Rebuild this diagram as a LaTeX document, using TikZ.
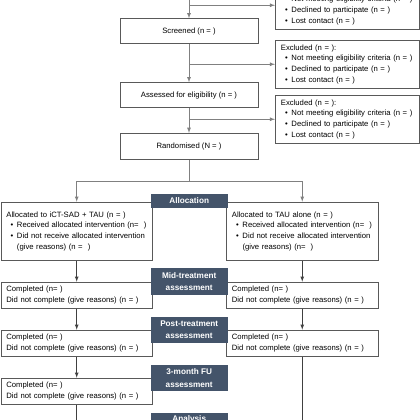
\documentclass[tikz,border=0pt]{standalone}
\usepackage{fontspec}
\setmainfont{Liberation Sans}
\usepackage{tikz}
\usetikzlibrary{arrows}
\definecolor{slate}{HTML}{44546A}
\definecolor{boxgray}{HTML}{595959}
\newcommand{\bul}{\hspace*{4.3pt}\textbullet\hspace{3.6pt}}
\newcommand{\cont}{\hspace*{10.6pt}}

\begin{document}
\begin{tikzpicture}[x=1pt, y=-1pt, every node/.style={font=\fontsize{7.7}{10.8}\selectfont},
		box/.style={draw=boxgray, line width=0.8pt, anchor=north west, inner xsep=5.5pt, inner ysep=0pt, align=left},
		stage/.style={draw=boxgray, line width=0.8pt, minimum width=138pt, minimum height=25pt, inner sep=0pt},
		head/.style={fill=slate, text=white, font=\fontsize{8.2}{12.3}\selectfont\bfseries, minimum width=77pt, align=center, inner sep=0pt},
		link/.style={color=gray, line width=0.8pt},
		dlink/.style={color=black!75, line width=0.8pt}]
				\useasboundingbox (0,0) rectangle (420,420);
				\clip (0,0) rectangle (420,420);
				% screening
				\coordinate (enrol) at (189,-30);
				\coordinate (bottom) at (0,430);
				\node [stage] (screened) at (189,31.2) {Screened (n = )};
				\node [stage] (assessed) at (189,95.2) {Assessed for eligibility (n = )};
				\node [stage, minimum height=26.4pt] (randomised) at (189,146.5) {Randomised (N = )};
				\foreach \n/\y in {0/-19,1/40,2/95}
				\node [box, minimum width=144pt, text width=133pt, minimum height=47.7pt] (excl\n) at (275,\y)
					{Excluded (n = ):\\ \bul Not meeting eligibility criteria (n = )\\ \bul Declined to participate (n = )\\ \bul Lost contact (n = )};
				\draw [link,-latex] (enrol) -- (screened);
				\draw [link,-latex] (screened) -- (assessed);
				\draw [link,-latex] (assessed) -- (randomised);
				\draw [link,-latex] (enrol |- excl0.west) -- (excl0.west);
				\draw [link,-latex] (screened.south |- excl1.west) -- (excl1.west);
				\draw [link,-latex] (assessed.south |- excl2.west) -- (excl2.west);
				% allocation
				\node [box, minimum width=151.6pt, text width=140.6pt, minimum height=58.3pt] (allocL) at (0.5,201.7)
					{Allocated to iCT-SAD + TAU (n = )\\ \bul Received allocated intervention (n=\ \ )\\ \bul Did not receive allocated intervention\\ \cont(give reasons) (n =\ \ )};
				\node [box, minimum width=151.7pt, text width=140.7pt, minimum height=58.3pt] (allocR) at (226,201.7)
					{Allocated to TAU alone (n = )\\ \bul Received allocated intervention (n=\ \ )\\ \bul Did not receive allocated intervention\\ \cont(give reasons) (n=\ \ )};
				\draw [link] (randomised.south) -- ++(0,21.3) coordinate (split);
				\draw [link,-latex] (split) -| (allocL.north);
				\draw [link,-latex] (split) -| (allocR.north);
				% follow-up
				\foreach \s/\y in {mid/281.7,post/329.7,fu/377.7}
				\node [box, minimum width=151.6pt, text width=140.6pt, minimum height=26pt] (\s L) at (0.5,\y)
					{Completed (n= )\\ Did not complete (give reasons) (n = )};
				\foreach \s/\y in {mid/281.7,post/329.7}
				\node [box, minimum width=151.7pt, text width=140.7pt, minimum height=26pt] (\s R) at (226,\y)
					{Completed (n= )\\ Did not complete (give reasons) (n = )};
				\draw [dlink,-latex] (allocL) -- (midL);
				\draw [dlink,-latex] (allocR) -- (midR);
				\draw [dlink,-latex] (midL) -- (postL);
				\draw [dlink,-latex] (midR) -- (postR);
				\draw [dlink,-latex] (postL) -- (fuL);
				\draw [dlink] (fuL.south) -- (fuL.south |- bottom);
				\draw [dlink] (postR.south) -- (postR.south |- bottom);
				% stage headers
				\node [head, minimum height=13.7pt] (hAlloc) at (189.2,200.9) {Allocation};
				\node [head, minimum height=26.3pt] (hMid) at (189.2,281.5) {Mid-treatment\\ assessment};
				\node [head, minimum height=26.3pt] (hPost) at (189.2,329.9) {Post-treatment\\ assessment};
				\node [head, minimum height=26.3pt] (hFU) at (189.2,378) {3-month FU\\ assessment};
				\node [head, minimum height=13.7pt] (hAnalysis) at (189.2,419.6) {Analysis};
			\end{tikzpicture}
\end{document}
